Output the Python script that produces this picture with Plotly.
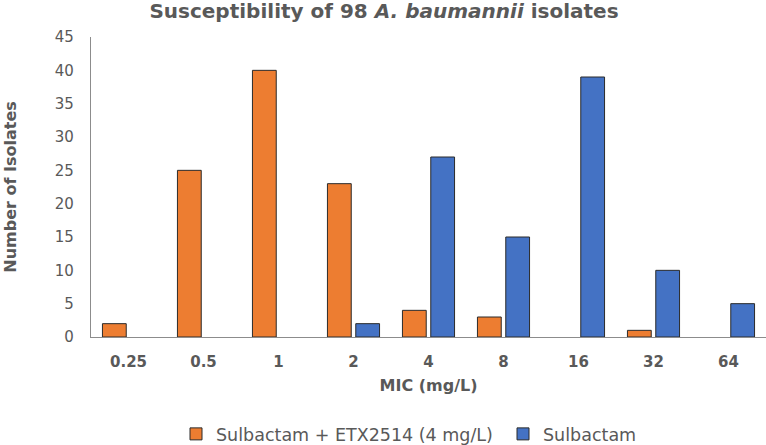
import plotly.graph_objects as go

categories = ["0.25", "0.5", "1", "2", "4", "8", "16", "32", "64"]
combo_values = [2, 25, 40, 23, 4, 3, 0, 1, 0]
sulbactam_values = [0, 0, 0, 2, 27, 15, 39, 10, 5]
series_names = ["Sulbactam + ETX2514 (4 mg/L)", "Sulbactam"]
y_ticks = [0, 5, 10, 15, 20, 25, 30, 35, 40, 45]

FONT = "DejaVu Sans, Verdana, sans-serif"
GRAY = "#595959"


def hide_zero(vals):
    # zero-height bars are not drawn in the reference (no outline stub)
    return [v if v != 0 else None for v in vals]


fig = go.Figure()
fig.add_trace(go.Bar(
    x=categories, y=hide_zero(combo_values), name=series_names[0],
    marker=dict(color="#ED7D31", line=dict(color="#2b2b2b", width=1)),
))
fig.add_trace(go.Bar(
    x=categories, y=hide_zero(sulbactam_values), name=series_names[1],
    marker=dict(color="#4472C4", line=dict(color="#2b2b2b", width=1)),
))

fig.update_layout(
    width=766, height=445,
    margin=dict(l=91, r=0, t=37, b=108, autoexpand=False),
    paper_bgcolor="white", plot_bgcolor="white",
    barmode="group", bargap=0.245, bargroupgap=0.16,
    font=dict(family=FONT, color=GRAY),
    title=dict(
        text="<b>Susceptibility of 98 <i>A. baumannii</i> isolates</b>",
        x=384 / 766, xref="container", xanchor="center",
        y=1 - 11 / 445, yref="container", yanchor="middle",
        font=dict(size=20, color=GRAY, family=FONT),
    ),
    showlegend=True,
    legend=dict(
        orientation="h", xref="container", x=176 / 766, xanchor="left",
        yref="container", y=1 - 434 / 445, yanchor="middle",
        font=dict(size=17.5, color=GRAY, family=FONT),
        entrywidth=282, entrywidthmode="pixels",
    ),
)

fig.update_xaxes(
    type="category", automargin=False,
    showline=True, linecolor="#8c8c8c", linewidth=1.3,
    showgrid=False, zeroline=False,
    ticks="outside", ticklen=11, tickcolor="rgba(0,0,0,0)",
    tickfont=dict(size=15, color=GRAY, family=FONT),
    tickprefix="<b>", ticksuffix="</b>",
    title=dict(text="<b>MIC (mg/L)</b>", font=dict(size=16, color=GRAY, family=FONT), standoff=9),
)
fig.update_yaxes(
    range=[0, 45], tickvals=y_ticks, automargin=False,
    showline=True, linecolor="#8c8c8c", linewidth=1.3,
    showgrid=False, zeroline=False,
    ticks="outside", ticklen=13, tickcolor="rgba(0,0,0,0)",
    tickfont=dict(size=15, color=GRAY, family=FONT),
    tickprefix="<b>", ticksuffix="</b>",
    title=dict(text="<b>Number of Isolates</b>", font=dict(size=16, color=GRAY, family=FONT), standoff=34),
)

fig.write_html(
    "out.html",
    config={"displayModeBar": False},
    post_script="document.body.style.margin='0';",
)
